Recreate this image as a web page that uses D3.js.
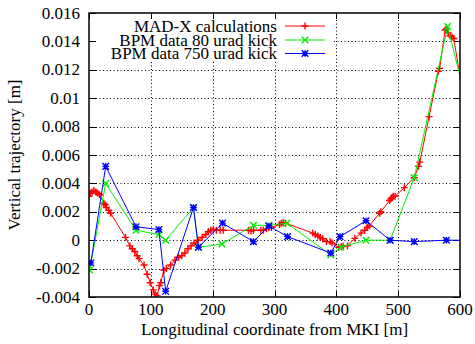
<!DOCTYPE html>
<html>
<head>
<meta charset="utf-8">
<script src="https://cdn.jsdelivr.net/npm/d3@7/dist/d3.min.js"></script>
<style>
  body { margin: 0; background: #fff; }
  svg { display: block; }
  text { font-family: "Liberation Serif", "Times New Roman", serif; font-size: 17px; fill: #000; }
</style>
</head>
<body>
<svg id="chart"></svg>
<script>
// tick values
const xTicks = [0, 100, 200, 300, 400, 500, 600];
const yTicks = [-0.004, -0.002, 0, 0.002, 0.004, 0.006, 0.008, 0.01, 0.012, 0.014, 0.016];
const yTickLabels = ['-0.004', '-0.002', '0', '0.002', '0.004', '0.006', '0.008', '0.01', '0.012', '0.014', '0.016'];

// MAD-X calculations [s (m), y (m)]
const madx = [
  [0, 0.0031], [2, 0.0033], [5, 0.0034], [8, 0.0035], [11, 0.0034], [14, 0.0033], [17, 0.0032],
  [24, 0.0026], [26, 0.0025], [28, 0.0023], [32, 0.0021], [35, 0.0019],
  [59, 0.0002], [66, -0.0004], [70, -0.0006], [74, -0.0008], [78, -0.0011], [81, -0.0013],
  [89, -0.00175], [94, -0.0024], [99, -0.003], [104, -0.0035], [107, -0.0038], [110, -0.0039],
  [114, -0.0032], [116, -0.003], [121, -0.0021], [125, -0.002],
  [132, -0.00175], [139, -0.0014], [145, -0.0012], [150, -0.0011], [155, -0.0009], [160, -0.0006],
  [165, -0.0004], [170, -0.0002], [177, 0], [183, 0.0002], [189, 0.0004], [193, 0.0006], [197, 0.0007],
  [201, 0.00077], [206, 0.0007], [212, 0.0007], [217, 0.0007],
  [258, 0.0007], [262, 0.00065], [266, 0.0007], [278, 0.0007], [282, 0.0007], [287, 0.0008],
  [291, 0.0009], [295, 0.0009], [308, 0.0011], [311, 0.0012], [314, 0.00123], [318, 0.0012],
  [362, 0.0005], [366, 0.0004], [370, 0.0003], [374, 0.0002], [378, 0.0001], [384, -0.0001],
  [390, -0.0001], [393, -0.0002], [404, -0.0005], [408, -0.00046], [411, -0.0004], [418, -0.0004],
  [430, 0.00013], [440, 0.0005], [446, 0.0007], [450, 0.0009], [453, 0.001],
  [470, 0.0019], [472, 0.002], [486, 0.0028], [488, 0.0029], [490, 0.003], [492, 0.0031], [495, 0.0031],
  [510, 0.0037], [526, 0.0044], [533, 0.0052], [535, 0.0055], [550, 0.0087], [565, 0.0119], [567, 0.0121],
  [576, 0.0148], [578, 0.0149], [581, 0.0146], [584, 0.0144], [587, 0.0143], [590, 0.0142], [610, 0.0088]
];

// BPM data 80 urad kick
const bpm80 = [
  [1, -0.0021], [27, 0.004], [76, 0.0007], [113, 0.0004], [124, 0], [169, 0.0023], [177, -0.0005],
  [215, -0.00027], [266, 0.00105], [291, 0.00105], [320, 0.0012], [391, -0.00104], [407, -0.0005],
  [448, 0], [487, 0], [526, 0.0044], [580, 0.01504], [610, 0.0098]
];

// BPM data 750 urad kick
const bpm750 = [
  [3, -0.0016], [27, 0.0052], [76, 0.00095], [113, 0.00075], [124, -0.0036], [169, 0.0023],
  [177, -0.0005], [216, 0.0012], [266, -0.0001], [291, 0.001], [321, 0.00025], [391, -0.0009],
  [406, 0.00025], [448, 0.00137], [487, 0], [526, -0.0001], [578, 0], [620, 0]
];

const width = 475;
const height = 344;
const plotL = 89, plotR = 460, plotT = 13, plotB = 297;

const svg = d3.select('#chart').attr('width', width).attr('height', height);

const x = d3.scaleLinear().domain([0, 600]).range([plotL, plotR]);
const y = d3.scaleLinear().domain([-0.004, 0.016]).range([plotB, plotT]);

svg.append('defs').append('clipPath').attr('id', 'plot-clip')
  .append('rect').attr('x', plotL).attr('y', plotT).attr('width', plotR - plotL).attr('height', plotB - plotT);

// grid
const grid = svg.append('g').attr('stroke', '#000').attr('stroke-width', 1).attr('stroke-dasharray', '1,2.5');
grid.selectAll('line.v').data(xTicks.slice(1, -1)).join('line').attr('class', 'v')
  .attr('x1', d => Math.round(x(d)) + 0.5).attr('x2', d => Math.round(x(d)) + 0.5)
  .attr('y1', plotT).attr('y2', plotB);
grid.selectAll('line.h').data(yTicks.slice(1, -1)).join('line').attr('class', 'h')
  .attr('y1', d => Math.round(y(d)) + 0.5).attr('y2', d => Math.round(y(d)) + 0.5)
  .attr('x1', plotL).attr('x2', plotR);

// legend box (opaque)
const legendX = 277;
svg.append('rect').attr('x', plotL + 1).attr('y', plotT + 1).attr('width', 243).attr('height', 46).attr('fill', '#fff');

// ticks on all four sides
const tk = svg.append('g').attr('stroke', '#000').attr('stroke-width', 1);
xTicks.forEach(d => {
  const px = Math.round(x(d)) + 0.5;
  tk.append('line').attr('x1', px).attr('x2', px).attr('y1', plotB).attr('y2', plotB - 6);
  tk.append('line').attr('x1', px).attr('x2', px).attr('y1', plotT).attr('y2', plotT + 6);
});
yTicks.forEach(d => {
  const py = Math.round(y(d)) + 0.5;
  tk.append('line').attr('y1', py).attr('y2', py).attr('x1', plotL).attr('x2', plotL + 7);
  tk.append('line').attr('y1', py).attr('y2', py).attr('x1', plotR).attr('x2', plotR - 7);
});

// tick labels
svg.append('g').selectAll('text').data(xTicks).join('text')
  .attr('x', d => x(d)).attr('y', 315).attr('text-anchor', 'middle').text(d => d);
svg.append('g').selectAll('text').data(yTicks).join('text')
  .attr('x', 80).attr('y', d => y(d) + 5.5).attr('text-anchor', 'end')
  .text((d, i) => yTickLabels[i]);

// axis titles
svg.append('text').attr('x', (plotL + plotR) / 2).attr('y', 335).attr('text-anchor', 'middle')
  .text('Longitudinal coordinate from MKI [m]');
svg.append('text').attr('transform', 'translate(20,155) rotate(-90)').attr('text-anchor', 'middle')
  .text('Vertical trajectory [m]');

// marker shapes
function plusPath(s) { return `M${-s},0H${s}M0,${-s}V${s}`; }
function crossPath(s) { return `M${-s},${-s}L${s},${s}M${-s},${s}L${s},${-s}`; }
function starPath(s) { return plusPath(s) + crossPath(s); }

const series = [
  { name: 'MAD-X calculations', data: madx, color: '#ff0000', marker: plusPath(3.5) },
  { name: 'BPM data 80 urad kick', data: bpm80, color: '#00ee00', marker: crossPath(3.3) },
  { name: 'BPM data 750 urad kick', data: bpm750, color: '#0000ff', marker: starPath(3.3) }
];

const line = d3.line().x(d => x(d[0])).y(d => y(d[1]));
const plot = svg.append('g').attr('clip-path', 'url(#plot-clip)');

series.forEach(s => {
  plot.append('path').datum(s.data).attr('d', line)
    .attr('fill', 'none').attr('stroke', s.color).attr('stroke-width', 1);
  plot.append('g').selectAll('path').data(s.data).join('path')
    .attr('transform', d => `translate(${x(d[0])},${y(d[1])})`)
    .attr('d', s.marker).attr('fill', 'none').attr('stroke', s.color).attr('stroke-width', 1.4);
});

// legend entries
const rowY = [26, 40, 53.5];
series.forEach((s, i) => {
  svg.append('text').attr('x', legendX).attr('y', rowY[i] + 5.5).attr('text-anchor', 'end').text(s.name);
  svg.append('line').attr('x1', 285).attr('x2', 325).attr('y1', rowY[i]).attr('y2', rowY[i])
    .attr('stroke', s.color).attr('stroke-width', 1);
  svg.append('path').attr('transform', `translate(305,${rowY[i]})`).attr('d', s.marker)
    .attr('fill', 'none').attr('stroke', s.color).attr('stroke-width', 1.4);
});

// frame
svg.append('rect').attr('x', plotL).attr('y', plotT).attr('width', plotR - plotL).attr('height', plotB - plotT)
  .attr('fill', 'none').attr('stroke', '#000').attr('stroke-width', 1.5);
</script>
</body>
</html>
